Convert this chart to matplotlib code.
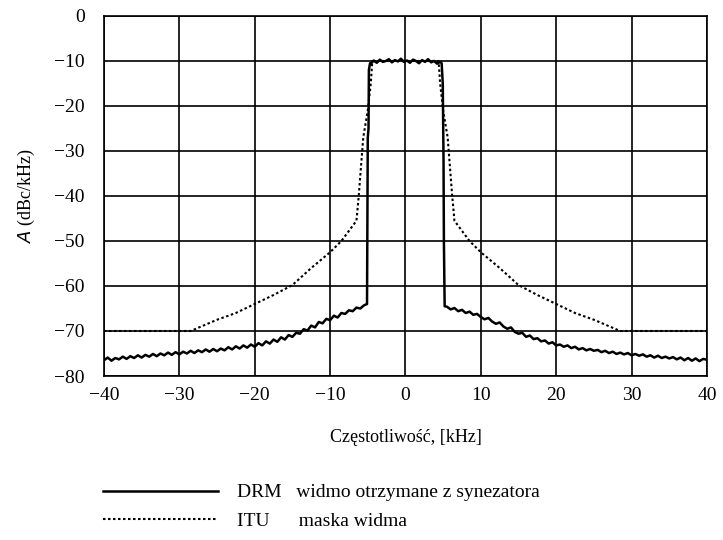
import numpy as np
import matplotlib
matplotlib.use('Agg')
import matplotlib.pyplot as plt

plt.rcParams['font.family'] = ['Liberation Serif', 'DejaVu Serif']

# DRM spectrum, left skirt (-40 .. -5.5 kHz, 0.5 kHz steps)
drm_left = [
    -76.5, -75.9, -76.6, -76.0, -76.3, -75.7, -76.2, -75.6, -76.0, -75.4,
    -75.9, -75.3, -75.7, -75.1, -75.6, -75.0, -75.4, -74.8, -75.3, -74.7,
    -75.2, -74.6, -75.0, -74.4, -74.9, -74.3, -74.7, -74.1, -74.6, -74.0,
    -74.5, -73.9, -74.3, -73.6, -74.1, -73.4, -73.9, -73.2, -73.7, -73.0,
    -73.5, -72.7, -73.2, -72.3, -72.8, -71.9, -72.4, -71.4, -71.9, -70.9,
    -71.3, -70.4, -70.6, -69.6, -69.9, -68.8, -69.2, -68.0, -68.3, -67.3,
    -67.6, -66.6, -67.0, -66.0, -66.2, -65.4, -65.6, -64.8, -65.0, -64.3,
]
# edges and flat top
drm_edge_l_f = [-5.1, -5.0, -4.9, -4.85, -4.7]
drm_edge_l = [-64.0, -27.0, -25.0, -12.0, -10.5]
drm_top = [
    -10.6, -9.9, -10.4, -9.7, -10.2, -10.0, -9.6, -10.3, -9.8, -10.1, -9.5, -10.2,
    -9.9, -10.4, -9.7, -10.0, -10.5, -9.8, -10.2, -9.6, -10.3, -10.0, -10.6, -10.2,
]
drm_edge_r_f = [4.8, 4.95, 5.05, 5.1, 5.2]
drm_edge_r = [-10.5, -15.0, -32.0, -50.0, -64.5]
# right skirt (5.5 .. 40 kHz)
drm_right = [
    -64.6, -65.2, -64.9, -65.6, -65.3, -66.0, -65.7, -66.4, -66.2, -66.9,
    -67.4, -67.1, -67.9, -68.4, -68.1, -69.0, -69.5, -69.2, -70.2, -70.6,
    -70.4, -71.3, -71.0, -71.8, -71.6, -72.3, -72.1, -72.8, -72.5, -73.2,
    -73.0, -73.5, -73.2, -73.8, -73.5, -74.1, -73.8, -74.3, -74.0, -74.4,
    -74.2, -74.7, -74.4, -74.9, -74.6, -75.1, -74.8, -75.2, -74.9, -75.4,
    -75.1, -75.5, -75.2, -75.7, -75.4, -75.9, -75.5, -76.0, -75.7, -76.1,
    -75.8, -76.3, -75.9, -76.5, -76.0, -76.6, -76.1, -76.7, -76.2, -76.4,
]

# ITU mask (half, mirrored)
itu_f = [4.4, 4.6, 5.0, 5.6, 6.2, 6.5, 8.5, 10, 12.5, 15, 17.5, 20, 22.5, 25, 28.5, 40]
itu_db = [-10, -15, -21, -27, -40, -45.5, -50, -52.5, -56, -59.8, -62, -64, -66, -67.5, -70, -70]

f_left = np.linspace(-40, -5.5, len(drm_left))
f_top = np.linspace(-4.6, 4.6, len(drm_top))
f_right = np.linspace(5.5, 40, len(drm_right))
drm_f = np.concatenate([f_left, drm_edge_l_f, f_top, drm_edge_r_f, f_right])
drm_db = np.concatenate([drm_left, drm_edge_l, drm_top, drm_edge_r, drm_right])

itu_x = np.concatenate([-np.array(itu_f)[::-1], itu_f])
itu_y = np.concatenate([np.array(itu_db)[::-1], itu_db])

fig = plt.figure(figsize=(7.23, 5.4), dpi=100)
ax = fig.add_axes([0.1438, 0.3037, 0.834, 0.6667])

ax.plot(drm_f, drm_db, color='black', lw=1.8, label='DRM   widmo otrzymane z synezatora')
ax.plot(itu_x, itu_y, color='black', lw=1.5, linestyle=(0, (1.2, 1.2)),
        label='ITU      maska widma')

ax.set_xlim(-40, 40)
ax.set_ylim(-80, 0)
ax.set_xticks(np.arange(-40, 41, 10))
ax.set_yticks(np.arange(-80, 1, 10))
ax.grid(True, color='black', lw=1.2)
for s in ax.spines.values():
    s.set_linewidth(1.2)
ax.tick_params(axis='both', length=0, labelsize=14)
ax.tick_params(axis='y', pad=14)
ax.tick_params(axis='x', pad=8)

ax.set_xlabel('Częstotliwość, [kHz]', fontsize=13, labelpad=18)
ax.set_ylabel('$\\mathit{A}$ (dBc/kHz)', fontsize=13, labelpad=12)

fig.legend(loc='upper left', bbox_to_anchor=(0.1425, 0.104), frameon=False,
           fontsize=14, handlelength=5.9, handletextpad=1.0, labelspacing=0.55,
           borderpad=0, borderaxespad=0)

plt.savefig('out.png', dpi=100)
